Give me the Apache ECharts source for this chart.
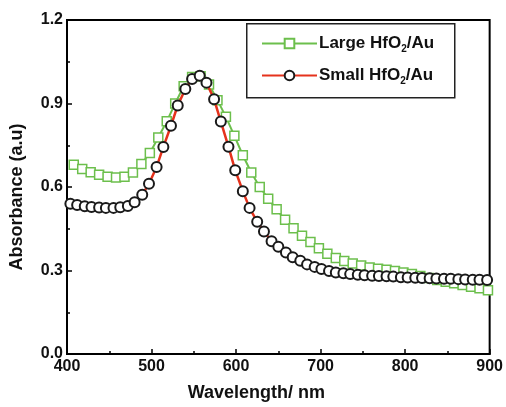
<!DOCTYPE html>
<html>
<head>
<meta charset="utf-8">
<script src="https://cdn.jsdelivr.net/npm/echarts@6/dist/echarts.min.js"></script>
<style>
  html, body { margin: 0; padding: 0; background: #fff; }
  #chart { width: 506px; height: 407px; }
</style>
</head>
<body>
<div id="chart"></div>
<script>
// Absorbance spectra of the two HfO2/Au samples
const seriesNames = ['Large HfO2/Au', 'Small HfO2/Au'];

const largeWavelength = [408, 418, 428, 438, 448, 458, 468, 478, 488, 498,
  508, 518, 528, 538, 548, 558, 568, 578, 588, 598,
  608, 618, 628, 638, 648, 658, 668, 678, 688, 698,
  708, 718, 728, 738, 748, 758, 768, 778, 788, 798,
  808, 818, 828, 838, 848, 858, 868, 878, 888, 898];
const largeAbsorbance = [0.68, 0.665, 0.653, 0.644, 0.637, 0.634, 0.637, 0.652, 0.683, 0.722,
  0.778, 0.836, 0.90, 0.962, 0.995, 0.998, 0.968, 0.912, 0.852, 0.784,
  0.714, 0.652, 0.60, 0.558, 0.52, 0.482, 0.452, 0.425, 0.402, 0.38,
  0.36, 0.345, 0.334, 0.325, 0.318, 0.311, 0.306, 0.303, 0.298, 0.293,
  0.287, 0.28, 0.273, 0.266, 0.26, 0.254, 0.248, 0.242, 0.236, 0.229];

const smallWavelength = [404, 412, 421, 429, 438, 446, 455, 463, 472, 480,
  489, 497, 506, 514, 523, 531, 540, 548, 557, 565,
  574, 582, 591, 599, 608, 616, 625, 633, 642, 650,
  659, 667, 676, 684, 693, 701, 710, 718, 727, 735,
  744, 752, 761, 769, 778, 786, 795, 803, 812, 820,
  829, 837, 846, 854, 863, 871, 880, 888, 897];
const smallAbsorbance = [0.54, 0.535, 0.531, 0.528, 0.526, 0.525, 0.525, 0.527, 0.532, 0.545,
  0.572, 0.612, 0.672, 0.744, 0.82, 0.893, 0.952, 0.988, 1.0, 0.975,
  0.915, 0.835, 0.745, 0.66, 0.585, 0.525, 0.475, 0.44, 0.405, 0.385,
  0.365, 0.348, 0.335, 0.322, 0.313, 0.305, 0.298, 0.293, 0.29, 0.287,
  0.285, 0.283, 0.281, 0.28, 0.279, 0.278, 0.276, 0.275, 0.274, 0.273,
  0.272, 0.271, 0.27, 0.27, 0.269, 0.268, 0.267, 0.267, 0.266];

const xTicks = [400, 500, 600, 700, 800, 900];
const yTicks = [0.0, 0.3, 0.6, 0.9, 1.2];

const FONT = '"Liberation Sans", Arial, sans-serif';
const GREEN = '#6cbf4c';
const RED = '#e5321c';

function pairs(xs, ys) { return xs.map((x, i) => [x, ys[i]]); }

const chart = echarts.init(document.getElementById('chart'), null, { renderer: 'canvas' });

const axisCommon = {
  axisLine: { show: true, lineStyle: { color: '#000', width: 2 } },
  axisTick: { show: true, inside: true, length: 5, lineStyle: { color: '#000', width: 1.5 } },
  minorTick: { show: true, splitNumber: 2, length: 3, lineStyle: { color: '#000', width: 1.5 } },
  splitLine: { show: false }
};

chart.setOption({
  animation: false,
  backgroundColor: '#fff',
  grid: { left: 61, right: 15, top: 20, bottom: 39, show: true, borderColor: '#000', borderWidth: 2, containLabel: false },
  xAxis: Object.assign({
    type: 'value', min: xTicks[0], max: xTicks[xTicks.length - 1], interval: 100,
    name: 'Wavelength/ nm', nameLocation: 'middle', nameGap: 30,
    nameTextStyle: { fontFamily: FONT, fontWeight: 'bold', fontSize: 18, color: '#111', padding: [0, 44, 0, 0] },
    axisLabel: { fontFamily: FONT, fontWeight: 'bold', fontSize: 16, color: '#111', margin: 5 }
  }, axisCommon),
  yAxis: Object.assign({
    type: 'value', min: yTicks[0], max: yTicks[yTicks.length - 1], interval: 0.3,
    name: 'Absorbance (a.u)', nameLocation: 'middle', nameGap: 41,
    nameTextStyle: { fontFamily: FONT, fontWeight: 'bold', fontSize: 18, color: '#111', padding: [0, 20, 0, 0] },
    axisLabel: { fontFamily: FONT, fontWeight: 'bold', fontSize: 16, color: '#111', margin: 4,
      formatter: v => v.toFixed(1) }
  }, axisCommon),
  legend: {
    show: true,
    left: 261, top: 35,
    orient: 'vertical',
    itemWidth: 55, itemHeight: 12, itemGap: 13,
    padding: 0,
    data: seriesNames,
    formatter: name => name === seriesNames[0]
      ? '{a|Large HfO}{s|2}{a|/Au}'
      : '{a|Small HfO}{s|2}{a|/Au}',
    textStyle: {
      padding: [0, 0, 0, -3],
      rich: {
        a: { fontFamily: FONT, fontWeight: 'bold', fontSize: 17, color: '#111' },
        s: { fontFamily: FONT, fontWeight: 'bold', fontSize: 10, color: '#111', verticalAlign: 'bottom', padding: [11, 0, 0, 0] }
      }
    }
  },
  graphic: [{
    type: 'rect', left: 246, top: 23, z: 1,
    shape: { width: 208, height: 74 },
    style: { fill: '#fff', stroke: '#222', lineWidth: 1.5 }
  }],
  series: [
    {
      name: seriesNames[0], type: 'line',
      data: pairs(largeWavelength, largeAbsorbance),
      symbol: 'rect', symbolSize: 9, showAllSymbol: true,
      lineStyle: { color: GREEN, width: 2 },
      itemStyle: { color: '#fff', borderColor: GREEN, borderWidth: 1.5 },
      z: 2
    },
    {
      name: seriesNames[1], type: 'line',
      data: pairs(smallWavelength, smallAbsorbance),
      symbol: 'circle', symbolSize: 10, showAllSymbol: true,
      lineStyle: { color: RED, width: 2.5 },
      itemStyle: { color: '#fff', borderColor: '#1a1a1a', borderWidth: 2 },
      z: 3
    }
  ]
});
</script>
</body>
</html>
